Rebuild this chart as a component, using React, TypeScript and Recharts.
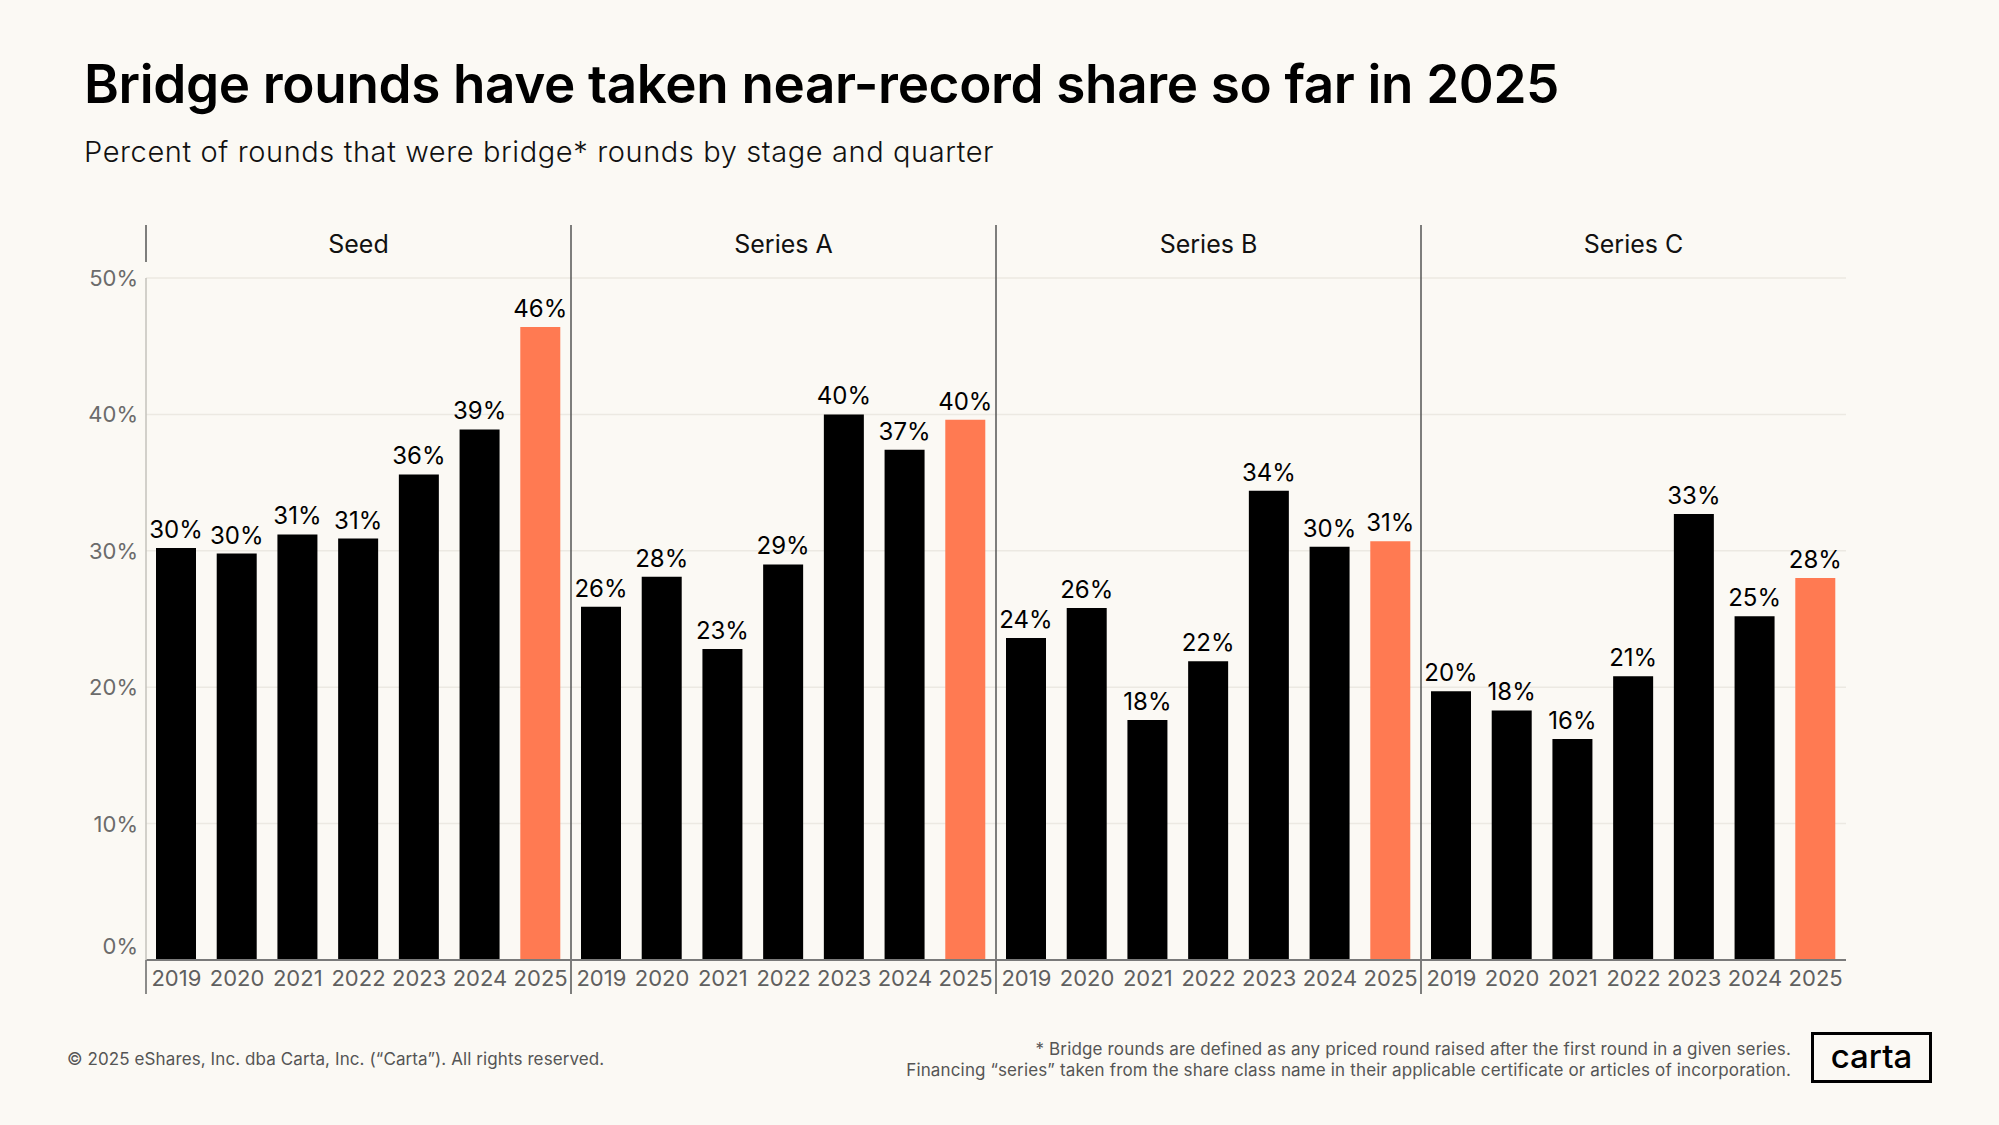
import React from 'react';
import { BarChart, Bar, XAxis, YAxis, CartesianGrid, Cell, LabelList, ReferenceLine } from 'recharts';

const stages = ['Seed', 'Series A', 'Series B', 'Series C'];
const years = ['2019', '2020', '2021', '2022', '2023', '2024', '2025'];
const seedValues = [30.2, 29.8, 31.2, 30.9, 35.6, 38.9, 46.4];
const seriesAValues = [25.9, 28.1, 22.8, 29.0, 40.0, 37.4, 39.6];
const seriesBValues = [23.6, 25.8, 17.6, 21.9, 34.4, 30.3, 30.7];
const seriesCValues = [19.7, 18.3, 16.2, 20.8, 32.7, 25.2, 28.0];
const yTicks = [0, 10, 20, 30, 40, 50];
const highlightYear = '2025';

const stageValues = [seedValues, seriesAValues, seriesBValues, seriesCValues];
const data = stages.flatMap((stage, s) =>
  years.map((year, i) => ({ key: `${stage}|${year}`, stage, year, value: stageValues[s][i] }))
);

const FONT = 'Inter, Lato, sans-serif';
const BG = '#FBF9F4';
const ORANGE = '#FF7A52';

const YTick = (props: any) => {
  const { x, y, payload } = props;
  const dy = payload.value === 0 ? -14 : 0;
  return (
    <text x={x} y={y + dy} dy={8} textAnchor="end" fill="#6b6b6b" fontSize={22} fontFamily={FONT}>
      {`${payload.value}%`}
    </text>
  );
};

const YearTick = (props: any) => {
  const { x, y, payload } = props;
  const year = String(payload.value).split('|')[1];
  return (
    <text x={x} y={y} dy={18} textAnchor="middle" fill="#5f5f5f" fontSize={22} fontFamily={FONT}>
      {year}
    </text>
  );
};

const StageTick = (props: any) => {
  const { x, y, payload, index } = props;
  if (index % years.length !== 3) return null;
  const stage = String(payload.value).split('|')[0];
  return (
    <text x={x} y={y} dy={-17} textAnchor="middle" fill="#111" fontSize={25} fontFamily={FONT}>
      {stage}
    </text>
  );
};

const makeSeparator = (first: boolean) => (props: any) => {
  const { x1, y1, y2 } = props;
  const top = Math.min(y1, y2);
  const bottom = Math.max(y1, y2);
  if (first) {
    return (
      <g>
        <line x1={x1} x2={x1} y1={top - 53} y2={top - 16} stroke="#555" strokeWidth={1.5} />
        <line x1={x1} x2={x1} y1={bottom} y2={bottom + 34} stroke="#666" strokeWidth={1.5} />
      </g>
    );
  }
  return <line x1={x1} x2={x1} y1={top - 53} y2={bottom + 34} stroke="#555" strokeWidth={1.5} />;
};

export default function App() {
  return (
    <div style={{ position: 'absolute', left: 0, top: 0, width: 1999, height: 1125, background: BG, overflow: 'hidden' }}>
      <BarChart
        width={1999}
        height={1125}
        data={data}
        margin={{ top: 248, right: 153, bottom: 125, left: 66 }}
      >
        <CartesianGrid vertical={false} stroke="#ECE9E2" strokeWidth={1.5} />
        <XAxis
          dataKey="key"
          interval={0}
          height={40}
          tick={<YearTick />}
          tickLine={false}
          axisLine={{ stroke: '#7a7a7a', strokeWidth: 2 }}
        />
        <XAxis
          xAxisId="top"
          orientation="top"
          dataKey="key"
          interval={0}
          height={30}
          tick={<StageTick />}
          tickLine={false}
          axisLine={false}
        />
        <YAxis
          width={80}
          domain={[0, 50]}
          ticks={yTicks}
          interval={0}
          tick={<YTick />}
          tickLine={false}
          axisLine={{ stroke: '#c4c2bd', strokeWidth: 1.5 }}
        />
        {stages.map((stage, s) => (
          <ReferenceLine
            key={stage}
            x={`${stage}|${years[0]}`}
            position="start"
            stroke="#555"
            ifOverflow="visible"
            shape={makeSeparator(s === 0)}
          />
        ))}
        <Bar dataKey="value" barSize={40} isAnimationActive={false}>
          {data.map((d) => (
            <Cell key={d.key} fill={d.year === highlightYear ? ORANGE : '#000'} />
          ))}
          <LabelList
            dataKey="value"
            position="top"
            offset={10}
            formatter={(v: any) => `${Math.round(Number(v))}%`}
            style={{ fill: '#000', fontSize: 24, fontFamily: FONT }}
          />
        </Bar>
      </BarChart>
      <svg width={1999} height={1125} style={{ position: 'absolute', left: 0, top: 0, pointerEvents: 'none' }}>
        <text x={84} y={103} fontSize={53} fontWeight={600} fill="#000" fontFamily={FONT} letterSpacing={-0.35}>
          Bridge rounds have taken near-record share so far in 2025
        </text>
        <text x={84} y={162} fontSize={29} fontWeight={300} fill="#111" fontFamily={FONT} letterSpacing={0.6}>
          Percent of rounds that were bridge* rounds by stage and quarter
        </text>
        <text x={67} y={1065} fontSize={17} fill="#555" fontFamily={FONT} letterSpacing={0.1}>
          © 2025 eShares, Inc. dba Carta, Inc. (“Carta”). All rights reserved.
        </text>
        <text x={1791} y={1055} fontSize={17} fill="#555" fontFamily={FONT} textAnchor="end" letterSpacing={0.15}>
          * Bridge rounds are defined as any priced round raised after the first round in a given series.
        </text>
        <text x={1791} y={1076} fontSize={17} fill="#555" fontFamily={FONT} textAnchor="end" letterSpacing={0.15}>
          Financing “series” taken from the share class name in their applicable certificate or articles of incorporation.
        </text>
        <rect x={1812.5} y={1033.5} width={118} height={48} fill="none" stroke="#000" strokeWidth={3} />
        <text x={1871.5} y={1068} fontSize={33} fontWeight={500} fill="#000" fontFamily={FONT} textAnchor="middle">
          carta
        </text>
      </svg>
    </div>
  );
}
